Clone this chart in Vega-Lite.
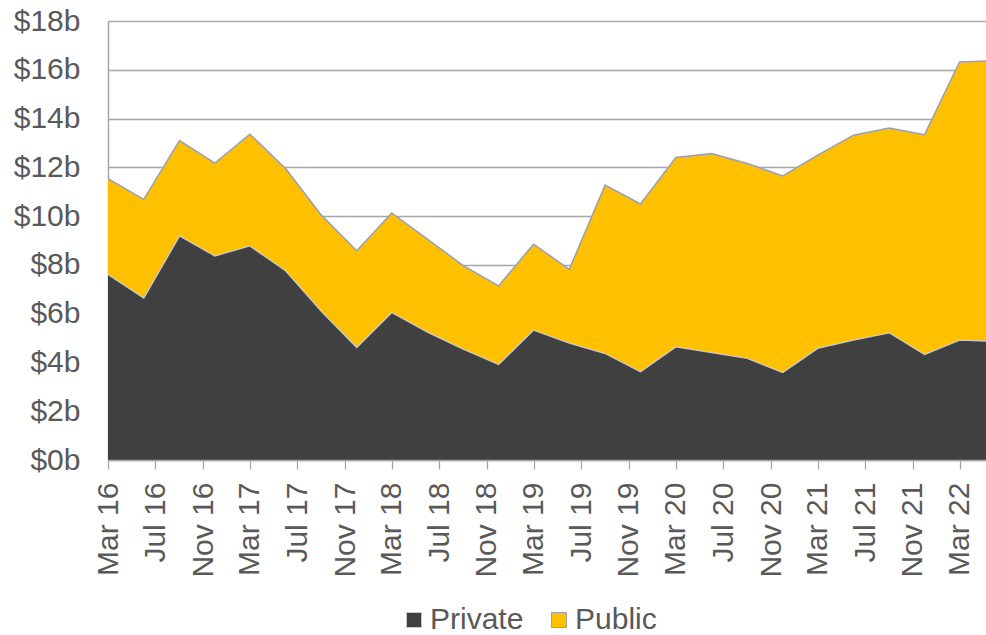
{
  "$schema": "https://vega.github.io/schema/vega-lite/v6.json",
  "width": 878,
  "height": 439,
  "autosize": {"type": "none"},
  "padding": {"left": 108, "top": 21, "right": 0, "bottom": 175},
  "background": "white",
  "config": {"view": {"stroke": null}, "font": "Liberation Sans"},
  "data": {"values": [
    {"date": "2016-03-01T00:00", "sector": "Private", "value": 7.61},
    {"date": "2016-06-01T00:00", "sector": "Private", "value": 6.65},
    {"date": "2016-09-01T00:00", "sector": "Private", "value": 9.19},
    {"date": "2016-12-01T00:00", "sector": "Private", "value": 8.37},
    {"date": "2017-03-01T00:00", "sector": "Private", "value": 8.78},
    {"date": "2017-06-01T00:00", "sector": "Private", "value": 7.76},
    {"date": "2017-09-01T00:00", "sector": "Private", "value": 6.10},
    {"date": "2017-12-01T00:00", "sector": "Private", "value": 4.62},
    {"date": "2018-03-01T00:00", "sector": "Private", "value": 6.05},
    {"date": "2018-06-01T00:00", "sector": "Private", "value": 5.25},
    {"date": "2018-09-01T00:00", "sector": "Private", "value": 4.55},
    {"date": "2018-12-01T00:00", "sector": "Private", "value": 3.92},
    {"date": "2019-03-01T00:00", "sector": "Private", "value": 5.33},
    {"date": "2019-06-01T00:00", "sector": "Private", "value": 4.80},
    {"date": "2019-09-01T00:00", "sector": "Private", "value": 4.37},
    {"date": "2019-12-01T00:00", "sector": "Private", "value": 3.62},
    {"date": "2020-03-01T00:00", "sector": "Private", "value": 4.64},
    {"date": "2020-06-01T00:00", "sector": "Private", "value": 4.41},
    {"date": "2020-09-01T00:00", "sector": "Private", "value": 4.17},
    {"date": "2020-12-01T00:00", "sector": "Private", "value": 3.59},
    {"date": "2021-03-01T00:00", "sector": "Private", "value": 4.58},
    {"date": "2021-06-01T00:00", "sector": "Private", "value": 4.92},
    {"date": "2021-09-01T00:00", "sector": "Private", "value": 5.22},
    {"date": "2021-12-01T00:00", "sector": "Private", "value": 4.33},
    {"date": "2022-03-01T00:00", "sector": "Private", "value": 4.92},
    {"date": "2022-06-01T00:00", "sector": "Private", "value": 4.87},
    {"date": "2016-03-01T00:00", "sector": "Public", "value": 3.93},
    {"date": "2016-06-01T00:00", "sector": "Public", "value": 4.04},
    {"date": "2016-09-01T00:00", "sector": "Public", "value": 3.91},
    {"date": "2016-12-01T00:00", "sector": "Public", "value": 3.80},
    {"date": "2017-03-01T00:00", "sector": "Public", "value": 4.58},
    {"date": "2017-06-01T00:00", "sector": "Public", "value": 4.19},
    {"date": "2017-09-01T00:00", "sector": "Public", "value": 3.94},
    {"date": "2017-12-01T00:00", "sector": "Public", "value": 3.96},
    {"date": "2018-03-01T00:00", "sector": "Public", "value": 4.08},
    {"date": "2018-06-01T00:00", "sector": "Public", "value": 3.81},
    {"date": "2018-09-01T00:00", "sector": "Public", "value": 3.42},
    {"date": "2018-12-01T00:00", "sector": "Public", "value": 3.22},
    {"date": "2019-03-01T00:00", "sector": "Public", "value": 3.52},
    {"date": "2019-06-01T00:00", "sector": "Public", "value": 3.02},
    {"date": "2019-09-01T00:00", "sector": "Public", "value": 6.90},
    {"date": "2019-12-01T00:00", "sector": "Public", "value": 6.88},
    {"date": "2020-03-01T00:00", "sector": "Public", "value": 7.76},
    {"date": "2020-06-01T00:00", "sector": "Public", "value": 8.16},
    {"date": "2020-09-01T00:00", "sector": "Public", "value": 7.99},
    {"date": "2020-12-01T00:00", "sector": "Public", "value": 8.06},
    {"date": "2021-03-01T00:00", "sector": "Public", "value": 7.92},
    {"date": "2021-06-01T00:00", "sector": "Public", "value": 8.40},
    {"date": "2021-09-01T00:00", "sector": "Public", "value": 8.39},
    {"date": "2021-12-01T00:00", "sector": "Public", "value": 9.01},
    {"date": "2022-03-01T00:00", "sector": "Public", "value": 11.40},
    {"date": "2022-06-01T00:00", "sector": "Public", "value": 11.50}
  ]},
  "encoding": {
    "x": {
      "field": "date", "type": "temporal",
      "scale": {"domain": [{"year": 2016, "month": 3, "date": 1}, {"year": 2022, "month": 5, "date": 8}]},
      "axis": {
        "title": null, "format": "%b %y", "labelAngle": -90, "labelFontSize": 30, "labelColor": "#595959",
        "labelPadding": 13, "tickSize": 9, "tickColor": "#A6A6A6", "tickWidth": 1.3,
        "domainColor": "#A6A6A6", "domainWidth": 1.5, "grid": false, "zindex": 1, "labelOverlap": false, "labelFlush": false,
        "values": [
          {"year": 2016, "month": 3, "date": 1}, {"year": 2016, "month": 7, "date": 1}, {"year": 2016, "month": 11, "date": 1},
          {"year": 2017, "month": 3, "date": 1}, {"year": 2017, "month": 7, "date": 1}, {"year": 2017, "month": 11, "date": 1},
          {"year": 2018, "month": 3, "date": 1}, {"year": 2018, "month": 7, "date": 1}, {"year": 2018, "month": 11, "date": 1},
          {"year": 2019, "month": 3, "date": 1}, {"year": 2019, "month": 7, "date": 1}, {"year": 2019, "month": 11, "date": 1},
          {"year": 2020, "month": 3, "date": 1}, {"year": 2020, "month": 7, "date": 1}, {"year": 2020, "month": 11, "date": 1},
          {"year": 2021, "month": 3, "date": 1}, {"year": 2021, "month": 7, "date": 1}, {"year": 2021, "month": 11, "date": 1},
          {"year": 2022, "month": 3, "date": 1}
        ]
      }
    },
    "y": {
      "field": "value", "type": "quantitative", "stack": "zero",
      "scale": {"domain": [0, 18], "nice": false},
      "axis": {
        "title": null, "values": [0, 2, 4, 6, 8, 10, 12, 14, 16, 18],
        "labelExpr": "'$' + datum.value + 'b'", "labelFontSize": 30, "labelColor": "#595959",
        "ticks": false, "labelPadding": 28, "domainColor": "#A6A6A6", "domainWidth": 1.5,
        "grid": true, "gridColor": "#A6A6A6", "gridWidth": 1.3
      }
    },
    "detail": {"field": "sector"},
    "order": {"field": "sector", "sort": "ascending"}
  },
  "layer": [
    {
      "mark": {"type": "area", "clip": true},
      "encoding": {
        "color": {
          "field": "sector", "type": "nominal",
          "scale": {"domain": ["Private", "Public"], "range": ["#404040", "#FFC000"]},
          "legend": {
            "title": null, "orient": "none", "direction": "horizontal", "legendX": 291, "legendY": 584,
            "symbolType": "square", "symbolSize": 225, "symbolStrokeColor": "#A6A6A6", "symbolStrokeWidth": 1,
            "symbolOpacity": 1, "labelFontSize": 30, "labelColor": "#595959", "labelOffset": 1, "columnPadding": 20, "padding": 0
          }
        }
      }
    },
    {
      "mark": {"type": "line", "clip": true, "strokeWidth": 1.5},
      "encoding": {
        "stroke": {
          "field": "sector", "type": "nominal",
          "scale": {"domain": ["Private", "Public"], "range": ["#C8C8C8", "#A0A0A0"]},
          "legend": null
        }
      }
    }
  ]
}
